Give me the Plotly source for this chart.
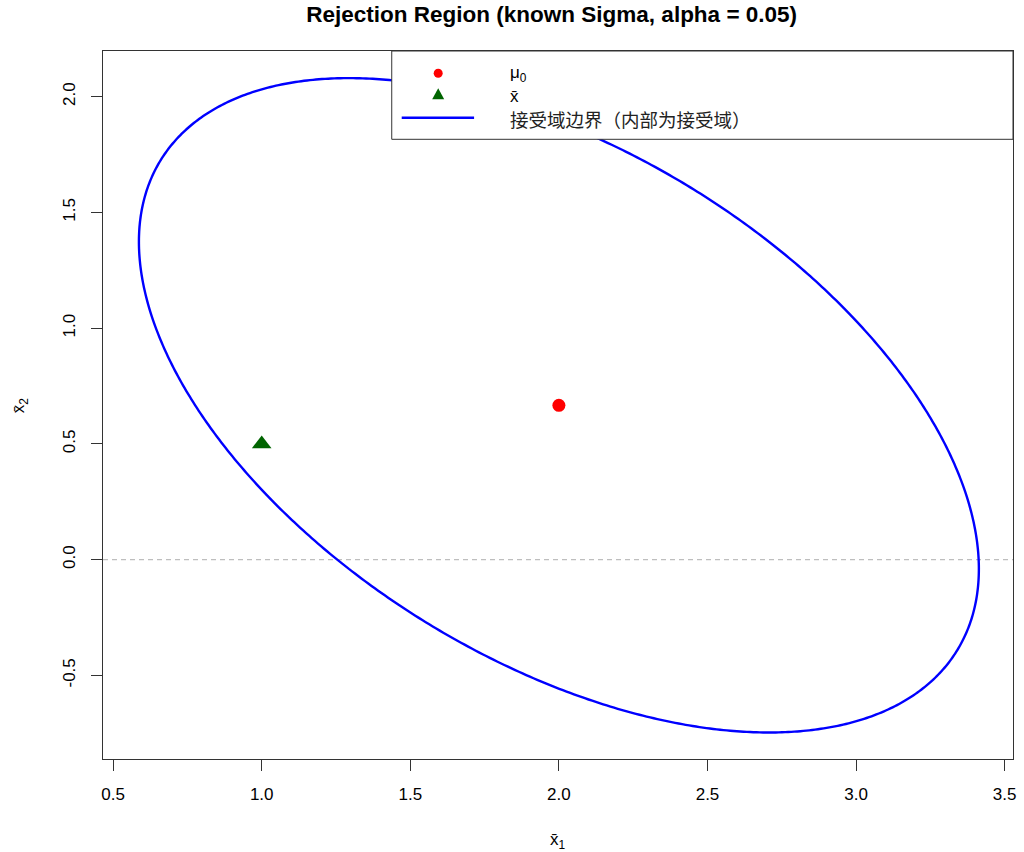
import numpy as np
import plotly.graph_objects as go

# ---- data ----
mu0 = [2.0, 2.0 / 3.0]          # hypothesised mean
xbar = [1.0, 0.5]               # sample mean
Sigma = [[1.0, -0.5], [-0.5, 1.0]]  # known covariance
n_obs = 3
chi2_crit = 5.991               # chi-square(2), alpha = 0.05
hline_y = 0.0
x_ticks = [0.5, 1.0, 1.5, 2.0, 2.5, 3.0, 3.5]
y_ticks = [-0.5, 0.0, 0.5, 1.0, 1.5, 2.0]
x_tick_text = ["0.5", "1.0", "1.5", "2.0", "2.5", "3.0", "3.5"]
y_tick_text = ["-0.5", "0.0", "0.5", "1.0", "1.5", "2.0"]
title_text = "Rejection Region (known Sigma, alpha = 0.05)"
legend_labels = ["μ<sub>0</sub>", "x̄", "接受域边界（内部为接受域）"]
x_title = "x̄<sub>1</sub>"
y_title = "x̄<sub>2</sub>"

# acceptance-region boundary: n (x-mu)' Sigma^-1 (x-mu) = chi2_crit
S = np.array(Sigma) * chi2_crit / n_obs
vals, vecs = np.linalg.eigh(S)
t = np.linspace(0, 2 * np.pi, 720)
circ = np.vstack([np.cos(t), np.sin(t)])
pts = vecs @ (np.sqrt(vals)[:, None] * circ)
ell_x = mu0[0] + pts[0]
ell_y = mu0[1] + pts[1]

FONT = "Liberation Sans, Arial, sans-serif"
CJK = "Noto Sans CJK SC, sans-serif"

FIG_W, FIG_H = 1024, 852
PL, PR, PT, PB = 103, 1016, 51, 759      # plot area in page pixels
W, H = PR - PL, PB - PT

def px(x):
    return (x - PL) / W

def py(y):
    return (PB - y) / H

fig = go.Figure()
fig.add_trace(go.Scatter(x=ell_x, y=ell_y, mode="lines",
                         line=dict(color="#0000FF", width=2.4, simplify=False),
                         showlegend=False, hoverinfo="skip"))
fig.add_trace(go.Scatter(x=[mu0[0]], y=[mu0[1]], mode="markers",
                         marker=dict(symbol="circle", size=13, color="#FF0000"),
                         showlegend=False))
fig.add_trace(go.Scatter(x=[xbar[0]], y=[xbar[1]], mode="markers",
                         marker=dict(symbol="triangle-up", size=17, color="#006400"),
                         showlegend=False))

axis_common = dict(showline=True, mirror=True, linecolor="#333333", linewidth=1,
                   ticks="outside", ticklen=11, tickcolor="#333333", tickwidth=1,
                   showgrid=False, zeroline=False, ticklabelstandoff=9,
                   tickfont=dict(family=FONT, size=17, color="#000000"))
fig.update_xaxes(range=[0.466, 3.528], tickvals=x_ticks, ticktext=x_tick_text,
                 **axis_common)
fig.update_yaxes(range=[-0.861, 2.197], tickvals=y_ticks, ticktext=y_tick_text,
                 tickangle=-90, **axis_common)

shapes = [
    dict(type="line", xref="paper", yref="y", x0=0, x1=1, y0=hline_y, y1=hline_y,
         line=dict(color="#BEBEBE", width=1.2, dash="5px,4px"), layer="below"),
    dict(type="rect", xref="paper", yref="paper", x0=px(392.7), x1=1.0,
         y0=py(139.3), y1=1.0, line=dict(color="#333333", width=1),
         fillcolor="white", layer="above"),
    dict(type="circle", xref="paper", yref="paper", xsizemode="pixel", ysizemode="pixel",
         xanchor=px(439.3), yanchor=py(73.3), x0=-4.5, x1=4.5, y0=-4.5, y1=4.5,
         fillcolor="#FF0000", line=dict(width=0), layer="above"),
    dict(type="path", xref="paper", yref="paper", xsizemode="pixel", ysizemode="pixel",
         xanchor=px(439.3), yanchor=py(94.3), path="M -6,-5 L 6,-5 L 0,6 Z",
         fillcolor="#006400", line=dict(width=0), layer="above"),
    dict(type="line", xref="paper", yref="paper", x0=px(402.7), x1=px(475.3),
         y0=py(117.7), y1=py(117.7), line=dict(color="#0000FF", width=2.4), layer="above"),
]
annotations = [
    dict(text=legend_labels[0], xref="paper", yref="paper", x=px(509), y=py(74),
         xanchor="left", yanchor="middle", showarrow=False,
         font=dict(family=FONT, size=17, color="#000000")),
    dict(text=legend_labels[1], xref="paper", yref="paper", x=px(509), y=py(96),
         xanchor="left", yanchor="middle", showarrow=False,
         font=dict(family=FONT, size=17, color="#000000")),
    dict(text=legend_labels[2], xref="paper", yref="paper", x=px(509), y=py(119),
         xanchor="left", yanchor="middle", showarrow=False,
         font=dict(family=CJK, size=18.5, color="#222222")),
    dict(text=x_title, xref="paper", yref="paper", x=px(559.5), y=py(841),
         xanchor="center", yanchor="middle", showarrow=False,
         font=dict(family=FONT, size=17, color="#000000")),
    dict(text=y_title, xref="paper", yref="paper", x=px(20), y=py(405),
         xanchor="center", yanchor="middle", showarrow=False, textangle=-90,
         font=dict(family=FONT, size=17, color="#000000")),
]

fig.update_layout(
    width=FIG_W, height=FIG_H,
    margin=dict(l=PL, r=FIG_W - PR, t=PT, b=FIG_H - PB, pad=0),
    paper_bgcolor="white", plot_bgcolor="white",
    title=dict(text="<b>" + title_text + "</b>", x=551.7 / FIG_W,
               xanchor="center", y=1 - 14 / FIG_H, yanchor="middle",
               font=dict(family=FONT, size=22.5, color="#000000")),
    showlegend=False,
)
fig.update_layout(shapes=shapes, annotations=annotations)

fig.write_html("out.html", config={"displayModeBar": False},
               post_script="document.body.style.margin='0';")
